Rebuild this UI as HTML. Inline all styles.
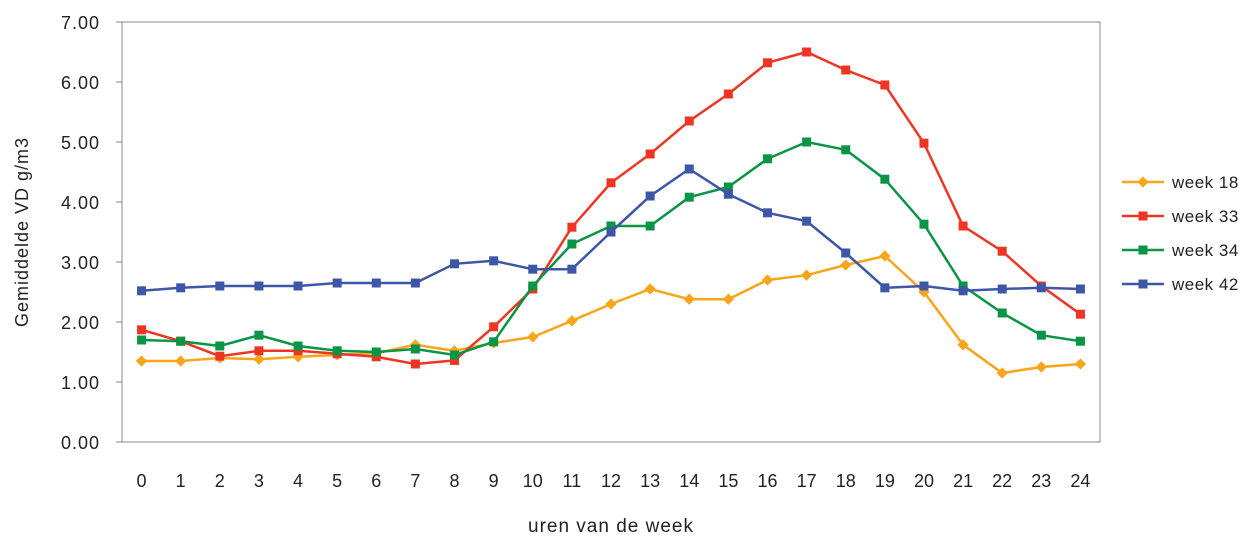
<!DOCTYPE html>
<html><head><meta charset="utf-8">
<style>
body{margin:0;background:#fff;}
svg text{font-family:"Liberation Sans",sans-serif;fill:#222;}
</style></head>
<body>
<svg id="chart" width="1260" height="543" xmlns="http://www.w3.org/2000/svg">
<rect x="122" y="22" width="978" height="420" fill="#fff" stroke="#888" stroke-width="1"/>
<g id="axes"></g>
<g id="series"></g>
<g id="legend"></g>
<text transform="translate(28,232) rotate(-90)" text-anchor="middle" font-size="18" letter-spacing="1">Gemiddelde VD g/m3</text>
<text x="611" y="532" text-anchor="middle" font-size="19" letter-spacing="1">uren van de week</text>
</svg>
<script>
const categories=[0,1,2,3,4,5,6,7,8,9,10,11,12,13,14,15,16,17,18,19,20,21,22,23,24];
const yTicks=[0,1,2,3,4,5,6,7];
const seriesNames=["week 18","week 33","week 34","week 42"];
const week18=[1.35,1.35,1.40,1.38,1.42,1.45,1.48,1.62,1.52,1.65,1.75,2.02,2.30,2.55,2.38,2.38,2.70,2.78,2.95,3.10,2.50,1.62,1.15,1.25,1.30];
const week33=[1.87,1.68,1.43,1.52,1.52,1.47,1.42,1.30,1.36,1.92,2.55,3.58,4.32,4.80,5.35,5.80,6.32,6.50,6.20,5.95,4.98,3.60,3.18,2.60,2.13];
const week34=[1.70,1.68,1.60,1.78,1.60,1.52,1.50,1.55,1.45,1.67,2.60,3.30,3.60,3.60,4.08,4.25,4.72,5.00,4.87,4.38,3.63,2.60,2.15,1.78,1.68];
const week42=[2.52,2.57,2.60,2.60,2.60,2.65,2.65,2.65,2.97,3.02,2.88,2.88,3.50,4.10,4.55,4.13,3.82,3.68,3.15,2.57,2.60,2.52,2.55,2.57,2.55];
const colors=["#F9A51B","#EE3524","#0A9446","#3E56A6"];
const NS="http://www.w3.org/2000/svg";
const L=122,R=1100,T=22,B=442,ymax=7;
const step=(R-L)/categories.length;
const xs=i=>L+step*(i+0.5);
const ys=v=>B-(v/ymax)*(B-T);
function mk(tag,attrs,parent){const e=document.createElementNS(NS,tag);for(const k in attrs)e.setAttribute(k,attrs[k]);parent.appendChild(e);return e;}
const axes=document.getElementById('axes');
yTicks.forEach(t=>{
  const tx=mk('text',{x:100,y:ys(t)+7,'text-anchor':'end','font-size':18,'letter-spacing':1},axes);
  
  
  tx.textContent=t.toFixed(2);
  const tk=mk('line',{x1:116,x2:122,y1:ys(t),y2:ys(t),stroke:'#888'},axes);
  
  
});
categories.forEach((c,i)=>{
  const tx=mk('text',{x:xs(i),y:487,'text-anchor':'middle','font-size':18},axes);
  
  
  tx.textContent=c;
});
const data=[week18,week33,week34,week42];
const sg=document.getElementById('series');
const lg=document.getElementById('legend');
data.forEach((arr,si)=>{
  const g=mk('g',{},sg);
  
  
  const pts=arr.map((v,i)=>xs(i)+','+ys(v)).join(' ');
  const pl=mk('polyline',{points:pts,fill:'none',stroke:colors[si],'stroke-width':2.5},g);
  
  
  arr.forEach((v,i)=>{
    let m;
    if(si===0){m=mk('rect',{x:xs(i)-4,y:ys(v)-4,width:8,height:8,fill:colors[si],transform:`rotate(45 ${xs(i)} ${ys(v)})`},g);}
    else{m=mk('rect',{x:xs(i)-4.5,y:ys(v)-4.5,width:9,height:9,fill:colors[si]},g);}
    
    
  });
  const ly=182+si*34;
  const le=mk('g',{},lg);
  
  
  mk('line',{x1:1122,x2:1164,y1:ly,y2:ly,stroke:colors[si],'stroke-width':2.5},le);
  if(si===0)mk('rect',{x:1139,y:ly-4,width:8,height:8,fill:colors[si],transform:`rotate(45 1143 ${ly})`},le);
  else mk('rect',{x:1138.5,y:ly-4.5,width:9,height:9,fill:colors[si]},le);
  const t=mk('text',{x:1172,y:ly+6,'font-size':17,'letter-spacing':0.5},le);
  t.textContent=seriesNames[si];
});
</script>
</body></html>
